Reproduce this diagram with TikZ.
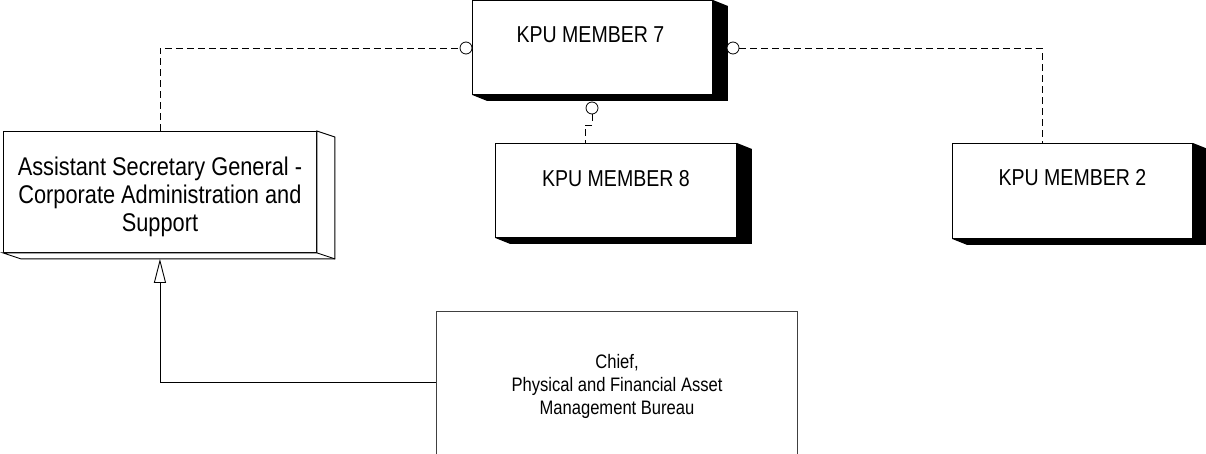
\documentclass[tikz,border=0pt]{standalone}
\usepackage{fontspec}
\setmainfont{Liberation Sans}[FakeStretch=0.85]
\usetikzlibrary{arrows.meta,calc}
\tikzset{
  face/.style={draw=black, line width=0.9pt, fill=white, inner sep=0pt, anchor=north west},
  caption/.style={font=\fontsize{23}{27}\selectfont, inner sep=0pt},
  bigcaption/.style={font=\fontsize{25.6}{28.3}\selectfont, align=center, inner sep=0pt},
  chiefcaption/.style={font=\fontsize{19.5}{23}\selectfont, align=center, inner sep=0pt},
  link/.style={draw=black, line width=0.9pt, dash pattern=on 7pt off 4pt},
  ball/.style={circle, draw=black, fill=white, line width=0.8pt, minimum size=12pt, inner sep=0pt},
  wire/.style={draw=black, line width=0.9pt},
}
% solid black extrusion to the right and below a box
\newcommand\darkside[1]{%
  \fill[black] (#1.north east) -- ++(15,6) -- ($(#1.south east)+(15,6)$)
    -- ($(#1.south west)+(15,6)$) -- (#1.south west) -- (#1.south east) -- cycle;}
\begin{document}
\begin{tikzpicture}[x=1pt,y=-1pt]
\useasboundingbox (0,0) rectangle (1206,454);
\clip (0,0) rectangle (1206,454);

% KPU members with dark extrusion
\node[face, minimum width=240pt, minimum height=94pt] (m7) at (472,0) {};
\darkside{m7}
\node[caption] (m7t) at ($(m7.north)+(-2,35)$) {KPU MEMBER 7};

\node[face, minimum width=241pt, minimum height=94pt] (m8) at (495,143) {};
\darkside{m8}
\node[caption] (m8t) at ($(m8.north)+(0,35.5)$) {KPU MEMBER 8};

\node[face, minimum width=240pt, minimum height=95pt] (m2) at (952,143) {};
\darkside{m2}
\node[caption] (m2t) at ($(m2.north)+(0,35)$) {KPU MEMBER 2};

% Assistant Secretary General: open 3D box
\node[face, minimum width=313pt, minimum height=121pt] (lb) at (3,131) {};
\filldraw[fill=white, draw=black, line width=0.9pt]
  (lb.north east) -- ++(18,6) -- ($(lb.south east)+(18,6)$)
  -- ($(lb.south west)+(18,6)$) -- (lb.south west) -- (lb.south east) -- cycle;
\draw[wire] (lb.south east) -- ++(18,6);
\node[bigcaption] (lbt) at ($(lb.center)+(0,5)$) {Assistant Secretary General -\\Corporate Administration and\\Support};

% Chief box
\node[face, draw=black!75, minimum width=361pt, minimum height=150pt] (ch) at (436,311) {};
\node[chiefcaption] (cht) at (617,386.5) {Chief,\\Physical and Financial Asset\\Management Bureau};

% interface circles and dashed links
\node[ball] (j1) at (466,48) {};
\node[ball] (j2) at (733,48) {};
\node[ball] (j3) at (592,108) {};
\coordinate (k2) at ($(m2.north west)+(90,0)$);
\coordinate (k8) at ($(m8.north west)+(90,0)$);

\draw[link] (lb.north) |- (j1.west);
\draw[link] (j2.east) -| (k2);
\draw[link] (j3.south) -- ++(0,11) -| (k8);

% generalisation arrow
\coordinate (tip) at ($(lb.south)+(0,6)$);
\draw[wire, -{Triangle[open, length=24pt, width=12pt, line width=0.9pt]}]
  (ch.west |- 0,382) -| (tip);
\end{tikzpicture}
\end{document}
